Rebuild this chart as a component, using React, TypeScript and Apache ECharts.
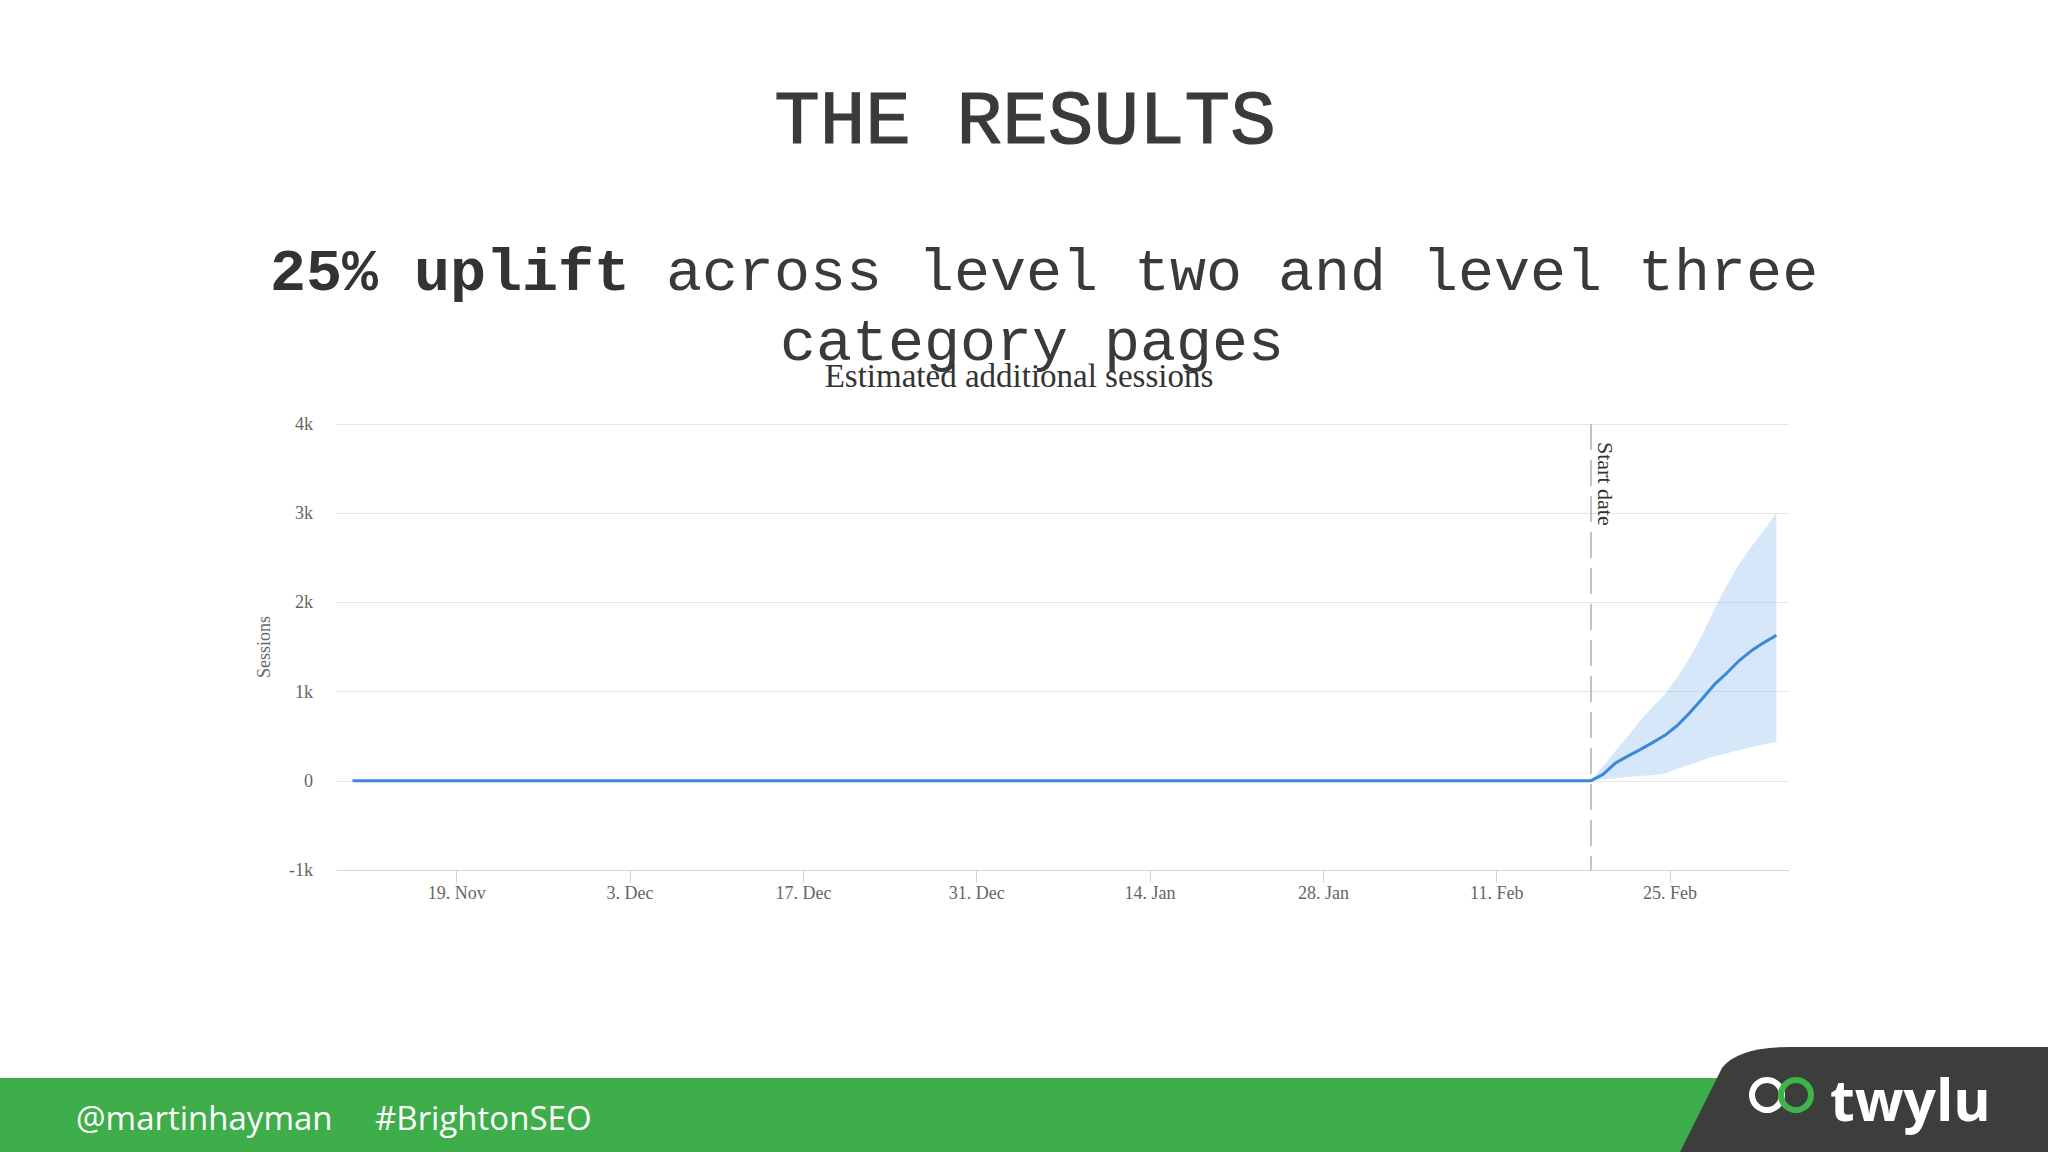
import React, { useEffect, useRef } from "react";
import * as echarts from "echarts";

// ---- texts ----
const slideTitle = "THE RESULTS";
const headlineBold = "25% uplift";
const headlineRest = " across level two and level three";
const headlineLine2 = "category pages";
const chartTitle = "Estimated additional sessions";
const yAxisName = "Sessions";
const startLabel = "Start date";
const footerHandle = "@martinhayman";
const footerTag = "#BrightonSEO";
const brandName = "twylu";

// ---- data ----
const firstDate = "2018-11-10T14:00:00Z";
const startDate = "2019-02-18T14:00:00Z";
const postDates = [
  "2019-02-18T14:00:00Z", "2019-02-19T14:00:00Z", "2019-02-20T14:00:00Z", "2019-02-21T14:00:00Z",
  "2019-02-22T14:00:00Z", "2019-02-23T14:00:00Z", "2019-02-24T14:00:00Z", "2019-02-25T14:00:00Z",
  "2019-02-26T14:00:00Z", "2019-02-27T14:00:00Z", "2019-02-28T14:00:00Z", "2019-03-01T14:00:00Z",
  "2019-03-02T14:00:00Z", "2019-03-03T14:00:00Z", "2019-03-04T14:00:00Z", "2019-03-05T14:00:00Z",
];
const firstValue = 0;
const medianValues = [0, 72, 198, 277, 350, 428, 510, 620, 762, 918, 1080, 1208, 1348, 1460, 1550, 1630];
const upperValues = [0, 160, 335, 500, 672, 828, 972, 1162, 1380, 1630, 1930, 2190, 2430, 2630, 2805, 3005];
const lowerValues = [0, 15, 28, 42, 55, 63, 82, 136, 182, 229, 276, 308, 345, 380, 409, 432];

const xTickDates = [
  "2018-11-19T00:00:00Z", "2018-12-03T00:00:00Z", "2018-12-17T00:00:00Z", "2018-12-31T00:00:00Z",
  "2019-01-14T00:00:00Z", "2019-01-28T00:00:00Z", "2019-02-11T00:00:00Z", "2019-02-25T00:00:00Z",
];
const monthNames = ["Jan", "Feb", "Mar", "Apr", "May", "Jun", "Jul", "Aug", "Sep", "Oct", "Nov", "Dec"];
const xMin = "2018-11-09T08:00:00Z";
const xMax = "2019-03-06T14:30:00Z";
const yMin = -1000;
const yMax = 4000;
const yInterval = 1000;

echarts.graphic.registerShape(
  "tab",
  echarts.graphic.extendPath("M1680 1152 L1722 1068 Q1738 1047 1790 1047 L2048 1047 L2048 1152 Z", {})
);

const SERIF = "'Liberation Serif', 'DejaVu Serif', serif";
const MONO = "'Liberation Mono', 'Courier New', monospace";
const SANS = "'Open Sans', 'Lato', sans-serif";

export default function App() {
  const ref = useRef<HTMLDivElement>(null);

  useEffect(() => {
    if (!ref.current) return;
    const chart = echarts.init(ref.current, undefined, { renderer: "svg" });
    const t = (s: string) => Date.parse(s);

    const medianData = [[t(firstDate), firstValue], ...postDates.map((d, i) => [t(d), medianValues[i]])];
    const bandData = postDates.map((d, i) => [t(d), lowerValues[i], upperValues[i]]);
    const tickValues = xTickDates.map(t);

    chart.setOption({
      animation: false,
      backgroundColor: "#ffffff",
      grid: { left: 337, right: 259, top: 424, bottom: 282, containLabel: false },
      xAxis: {
        type: "value",
        min: t(xMin),
        max: t(xMax),
        axisLine: { show: true, onZero: false, lineStyle: { color: "#ccd6eb", width: 1 } },
        axisTick: { show: true, length: 13, lineStyle: { color: "#ccd6eb", width: 1 }, customValues: tickValues },
        splitLine: { show: false },
        axisLabel: {
          customValues: tickValues,
          margin: 14,
          color: "#666666",
          fontFamily: SERIF,
          fontSize: 18,
          formatter: (v: number) => {
            const d = new Date(v);
            return d.getUTCDate() + ". " + monthNames[d.getUTCMonth()];
          },
        },
      },
      yAxis: {
        type: "value",
        min: yMin,
        max: yMax,
        interval: yInterval,
        name: yAxisName,
        nameLocation: "middle",
        nameGap: 64,
        nameRotate: 90,
        nameTextStyle: { color: "#666666", fontFamily: SERIF, fontSize: 18 },
        axisLine: { show: false },
        axisTick: { show: false },
        splitLine: { show: true, lineStyle: { color: "#e6e6e6", width: 1 } },
        axisLabel: {
          margin: 24,
          color: "#666666",
          fontFamily: SERIF,
          fontSize: 18,
          formatter: (v: number) => (v === 0 ? "0" : v / 1000 + "k"),
        },
      },
      series: [
        {
          type: "custom",
          name: "band",
          data: bandData,
          encode: { x: 0, y: [1, 2] },
          silent: true,
          z: 1,
          renderItem: (params: any, api: any) => {
            if (params.dataIndex !== 0) return null;
            const top = bandData.map((p) => api.coord([p[0], p[2]]));
            const bottom = bandData.map((p) => api.coord([p[0], p[1]])).reverse();
            return {
              type: "polygon",
              shape: { points: [...top, ...bottom] },
              style: { fill: "rgba(124,181,236,0.32)" },
            };
          },
        },
        {
          type: "line",
          name: "median",
          data: medianData,
          symbol: "none",
          silent: true,
          lineStyle: { color: "#3a88d6", width: 3 },
          z: 3,
          markLine: {
            silent: true,
            symbol: "none",
            animation: false,
            lineStyle: { color: "#c4c4c4", type: [26, 10], width: 2 },
            label: {
              show: true,
              formatter: startLabel,
              position: "insideStartTop",
              distance: [18, 4],
              color: "#333333",
              fontFamily: SERIF,
              fontSize: 22,
            },
            data: [[{ coord: [t(startDate), yMax] }, { coord: [t(startDate), yMin] }]],
          },
        },
      ],
      graphic: [
        {
          type: "text",
          x: 1025,
          y: 123,
          style: {
            text: slideTitle,
            font: `76px ${MONO}`,
            fill: "#3a3a3a",
            stroke: "#3a3a3a",
            lineWidth: 1.2,
            textAlign: "center",
            textVerticalAlign: "middle",
          },
        },
        {
          type: "text",
          x: 1044,
          y: 274,
          style: {
            text: `{b|${headlineBold}}{r|${headlineRest}}`,
            textAlign: "center",
            textVerticalAlign: "middle",
            rich: {
              b: { font: `bold 60px ${MONO}`, fill: "#333333" },
              r: { font: `60px ${MONO}`, fill: "#3a3a3a" },
            },
          },
        },
        {
          type: "text",
          x: 1032,
          y: 344,
          style: {
            text: headlineLine2,
            font: `60px ${MONO}`,
            fill: "#3a3a3a",
            textAlign: "center",
            textVerticalAlign: "middle",
          },
        },
        {
          type: "text",
          x: 1019,
          y: 376,
          style: {
            text: chartTitle,
            font: `33px ${SERIF}`,
            fill: "#333333",
            textAlign: "center",
            textVerticalAlign: "middle",
          },
        },
        {
          type: "rect",
          shape: { x: 0, y: 1078, width: 2048, height: 74 },
          style: { fill: "#3dae49" },
        },
        {
          type: "tab",
          x: 0,
          y: 0,
          style: { fill: "#3b3e3b" },
        },
        {
          type: "text",
          x: 76,
          y: 1117,
          style: {
            text: footerHandle,
            font: `33px ${SANS}`,
            fill: "#ffffff",
            textAlign: "left",
            textVerticalAlign: "middle",
          },
        },
        {
          type: "text",
          x: 375,
          y: 1117,
          style: {
            text: footerTag,
            font: `33px ${SANS}`,
            fill: "#ffffff",
            textAlign: "left",
            textVerticalAlign: "middle",
          },
        },
        {
          type: "ring",
          shape: { cx: 1767, cy: 1095, r: 18, r0: 12 },
          style: { fill: "#ffffff" },
        },
        {
          type: "ring",
          shape: { cx: 1796, cy: 1095, r: 18, r0: 12 },
          style: { fill: "#3db54a" },
        },
        {
          type: "text",
          x: 1830,
          y: 1099,
          style: {
            text: brandName,
            font: `bold 57px ${SANS}`,
            fill: "#ffffff",
            textAlign: "left",
            textVerticalAlign: "middle",
          },
        },
      ],
    });

    return () => chart.dispose();
  }, []);

  return (
    <div
      ref={ref}
      style={{ position: "fixed", left: 0, top: 0, width: 2048, height: 1152, background: "#ffffff" }}
    />
  );
}
